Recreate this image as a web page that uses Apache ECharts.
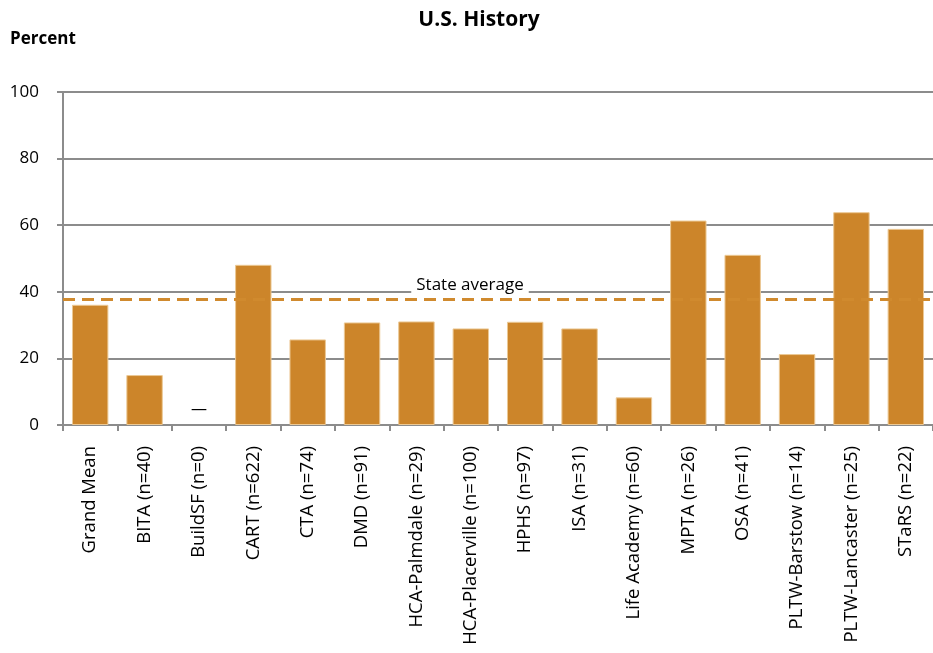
<!DOCTYPE html>
<html>
<head>
<meta charset="utf-8">
<script src="https://cdn.jsdelivr.net/npm/echarts@6/dist/echarts.min.js"></script>
<style>html,body{margin:0;padding:0;background:#fff}#container{width:933px;height:653px}</style>
</head>
<body>
<div id="container"></div>
<script>
var dom = document.getElementById("container");
var myChart = echarts.init(dom);

var categories = ['Grand Mean', 'BITA (n=40)', 'BuildSF (n=0)', 'CART (n=622)', 'CTA (n=74)',
    'DMD (n=91)', 'HCA-Palmdale (n=29)', 'HCA-Placerville (n=100)', 'HPHS (n=97)', 'ISA (n=31)',
    'Life Academy (n=60)', 'MPTA (n=26)', 'OSA (n=41)', 'PLTW-Barstow (n=14)',
    'PLTW-Lancaster (n=25)', 'STaRS (n=22)'];
var values = [36.1, 15.0, 0, 48.1, 25.7, 30.8, 31.1, 29.0, 31.0, 29.0, 8.3, 61.4, 51.1, 21.3, 63.9, 58.9];
var noData = [false, false, true, false, false, false, false, false, false, false, false, false, false, false, false, false];
var stateAverage = 37.8;
var yTicks = [0, 20, 40, 60, 80, 100];

var font = '"Open Sans", sans-serif';

var barData = values.map(function (v, i) {
    if (noData[i]) {
        return {
            value: 0,
            itemStyle: {borderWidth: 0, color: 'rgba(0,0,0,0)'},
            label: {show: true, position: 'top', distance: 8, formatter: '\u2014', fontSize: 16, color: '#000', fontFamily: font}
        };
    }
    return v;
});

option = {
    animation: false,
    title: {
        text: 'U.S. History',
        left: 474,
        textAlign: 'center',
        top: 5,
        textStyle: {fontFamily: font, fontSize: 21, fontWeight: 'bold', color: '#000'}
    },
    graphic: [{
        type: 'text',
        left: 10,
        top: 31,
        style: {text: 'Percent', font: 'bold 17px ' + font, fill: '#000'}
    }],
    grid: {left: 63, right: -7, top: 92, bottom: 228, containLabel: false},
    xAxis: {
        type: 'category',
        data: categories,
        axisLine: {lineStyle: {color: '#8c8c8c', width: 2}},
        axisTick: {show: true, length: 6, lineStyle: {color: '#8c8c8c', width: 2}},
        axisLabel: {rotate: 90, margin: 21, fontFamily: font, fontSize: 18.5, color: '#000', interval: 0}
    },
    yAxis: {
        type: 'value',
        min: 0,
        max: 100,
        interval: 20,
        axisLine: {show: true, lineStyle: {color: '#8c8c8c', width: 2}},
        axisTick: {show: true, length: 6, lineStyle: {color: '#8c8c8c', width: 2}},
        axisLabel: {margin: 24, fontFamily: font, fontSize: 17, color: '#000',
            formatter: function (v) { return yTicks.indexOf(v) >= 0 ? v : ''; }},
        splitLine: {lineStyle: {color: '#8c8c8c', width: 2}}
    },
    series: [{
        type: 'bar',
        data: barData,
        barCategoryGap: '33%',
        itemStyle: {color: '#cc852a', borderColor: '#ecc995', borderWidth: 1},
        markLine: {
            symbol: 'none',
            silent: true,
            data: [{yAxis: stateAverage}],
            lineStyle: {color: '#d08a2e', type: [12, 7], width: 3},
            label: {
                show: true,
                position: 'insideMiddleTop',
                formatter: 'State average',
                offset: [-28, 0],
                fontFamily: font,
                fontSize: 17,
                color: '#000',
                backgroundColor: '#fff',
                padding: [0, 5, 0, 5]
            }
        }
    }]
};

if (option && typeof option === "object") {
    myChart.setOption(option, true);
}
</script>
</body>
</html>
